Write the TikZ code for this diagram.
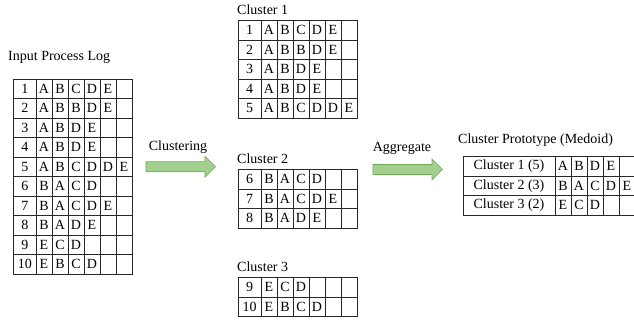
\documentclass[tikz,border=0pt]{standalone}
\usepackage{fontspec}
\setmainfont{Liberation Serif}
\usetikzlibrary{positioning}

\definecolor{arrowfill}{RGB}{163,208,142}
\definecolor{arrowdraw}{RGB}{112,172,84}
\definecolor{gridline}{RGB}{40,40,40}

\newcommand\tblfont{\fontsize{14}{16}\selectfont}

% one table row: #1 row name, #2 left x, #3 centre y, #4 first-cell text,
% #5 first-cell width, #6 number of activity cells, #7 activities
\newcommand\seqrow[7]{%
  \node[cell, minimum width=#5pt] (#1-0) at (#2,#3) {#4};
  \foreach \c in {1,...,#6}
    \node[cell, minimum width=16pt] (#1-\c) at ({#2+#5+(\c-1)*16},#3) {};
  \foreach \l [count=\c] in {#7}
    \node[act] (#1-\c-t) at (#1-\c) {\l};
}

\begin{document}
\begin{tikzpicture}[x=1pt,y=-1pt,
  cell/.style={draw=gridline, line width=0.6pt, minimum height=19.5pt,
    inner sep=0pt, outer sep=0pt, anchor=west, font=\tblfont},
  act/.style={inner sep=0pt, font=\tblfont},
  caption/.style={inner sep=0pt, anchor=west, font=\tblfont},
  steplabel/.style={inner sep=0pt, font=\tblfont},
  blockarrow/.style={draw=arrowdraw, fill=arrowfill, line width=0.6pt, line join=miter}]

\useasboundingbox (0,0) rectangle (634,320);

% ---- input log ----
\node[caption] (inLbl) at (8,57) {Input Process Log};
\seqrow{in1}{13.5}{88.75}{1}{22.5}{6}{A,B,C,D,E}
\seqrow{in2}{13.5}{108.25}{2}{22.5}{6}{A,B,B,D,E}
\seqrow{in3}{13.5}{127.75}{3}{22.5}{6}{A,B,D,E}
\seqrow{in4}{13.5}{147.25}{4}{22.5}{6}{A,B,D,E}
\seqrow{in5}{13.5}{166.75}{5}{22.5}{6}{A,B,C,D,D,E}
\seqrow{in6}{13.5}{186.25}{6}{22.5}{6}{B,A,C,D}
\seqrow{in7}{13.5}{205.75}{7}{22.5}{6}{B,A,C,D,E}
\seqrow{in8}{13.5}{225.25}{8}{22.5}{6}{B,A,D,E}
\seqrow{in9}{13.5}{244.75}{9}{22.5}{6}{E,C,D}
\seqrow{in10}{13.5}{264.25}{10}{22.5}{6}{E,B,C,D}

% ---- clustering step ----
\node[steplabel] (clLbl) at (178,147) {Clustering};
\draw[blockarrow] (146,161.8) -- (205,161.8) -- (205,156.3) -- (215.5,166.8)
  -- (205,177.3) -- (205,171.8) -- (146,171.8) -- cycle;

% ---- cluster 1 ----
\node[caption] (c1Lbl) at (237,10) {Cluster 1};
\seqrow{ca1}{238}{30.25}{1}{23}{6}{A,B,C,D,E}
\seqrow{ca2}{238}{49.75}{2}{23}{6}{A,B,B,D,E}
\seqrow{ca3}{238}{69.25}{3}{23}{6}{A,B,D,E}
\seqrow{ca4}{238}{88.75}{4}{23}{6}{A,B,D,E}
\seqrow{ca5}{238}{108.25}{5}{23}{6}{A,B,C,D,D,E}

% ---- cluster 2 ----
\node[caption] (c2Lbl) at (237,159) {Cluster 2};
\seqrow{cb6}{238}{179.25}{6}{23}{6}{B,A,C,D}
\seqrow{cb7}{238}{198.75}{7}{23}{6}{B,A,C,D,E}
\seqrow{cb8}{238}{218.25}{8}{23}{6}{B,A,D,E}

% ---- cluster 3 ----
\node[caption] (c3Lbl) at (237,267) {Cluster 3};
\seqrow{cc9}{238}{287.25}{9}{23}{6}{E,C,D}
\seqrow{cc10}{238}{306.75}{10}{23}{6}{E,B,C,D}

% ---- aggregation step ----
\node[steplabel] (agLbl) at (402,148) {Aggregate};
\draw[blockarrow] (373,164.5) -- (432,164.5) -- (432,159) -- (442.5,169.5)
  -- (432,180) -- (432,174.5) -- (373,174.5) -- cycle;

% ---- medoids ----
\node[caption] (prLbl) at (458,140) {Cluster Prototype (Medoid)};
\seqrow{pr1}{463}{166.25}{Cluster 1 (5)}{92}{5}{A,B,D,E}
\seqrow{pr2}{463}{185.75}{Cluster 2 (3)}{92}{5}{B,A,C,D,E}
\seqrow{pr3}{463}{205.25}{Cluster 3 (2)}{92}{5}{E,C,D}

\end{tikzpicture}
\end{document}
